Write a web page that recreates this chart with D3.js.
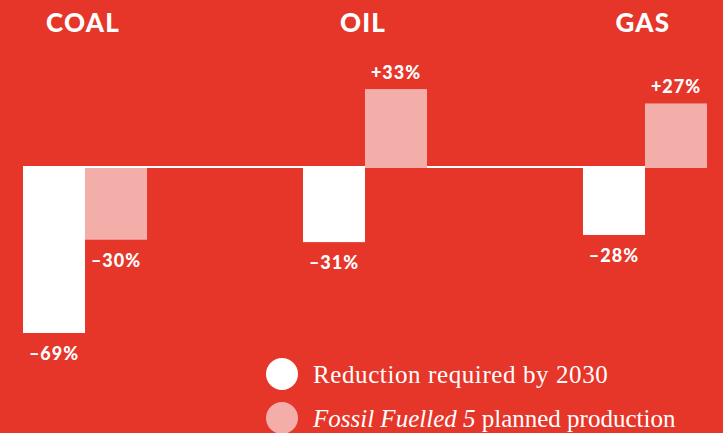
<!DOCTYPE html>
<html><head><meta charset="utf-8">
<script src="https://cdn.jsdelivr.net/npm/d3@7"></script>
<style>
html,body{margin:0;padding:0;background:#E63529;}
svg{display:block;}
</style></head>
<body>
<script>
const categories = ["COAL", "OIL", "GAS"];
const seriesNames = ["Reduction required by 2030", "Fossil Fuelled 5 planned production"];
const reductionRequired = [-69, -31, -28];
const plannedProduction = [-30, 33, 27];
const valueLabels = [["–69%", "–30%"], ["–31%", "+33%"], ["–28%", "+27%"]];

const W = 723, H = 433;
const bg = "#E63529", white = "#FFFFFF", pink = "#F4AEAA";
const svg = d3.select("body").append("svg").attr("width", W).attr("height", H);
svg.append("rect").attr("width", W).attr("height", H).attr("fill", bg);

const x = d3.scaleBand().domain(categories).range([23, 707]).paddingInner(0.557).paddingOuter(0);
const xs = d3.scaleBand().domain([0, 1]).range([0, x.bandwidth()]);
const y = d3.scaleLinear().domain([0, -69]).range([168, 333]);

const rows = categories.map((c, i) => [
  {cat: c, s: 0, v: reductionRequired[i], label: valueLabels[i][0]},
  {cat: c, s: 1, v: plannedProduction[i], label: valueLabels[i][1]}
]).flat();

const fontSans = "Lato, 'Open Sans', sans-serif";

// baseline line
svg.append("line").attr("x1", x.range()[0]).attr("x2", x.range()[1])
  .attr("y1", y(0) - 1).attr("y2", y(0) - 1)
  .attr("stroke", white).attr("stroke-width", 2);

svg.selectAll("rect.bar").data(rows).enter().append("rect")
  .attr("class", "bar")
  .attr("x", d => x(d.cat) + xs(d.s))
  .attr("width", xs.bandwidth())
  .attr("y", d => Math.min(y(d.v), y(0)))
  .attr("height", d => Math.abs(y(d.v) - y(0)))
  .attr("fill", d => d.s === 0 ? white : pink);

svg.selectAll("text.val").data(rows).enter().append("text")
  .attr("class", "val")
  .attr("x", d => x(d.cat) + xs(d.s) + xs.bandwidth() / 2)
  .attr("y", d => d.v < 0 ? y(d.v) + 27 : y(d.v) - 10)
  .attr("text-anchor", "middle")
  .attr("fill", white)
  .style("font-family", fontSans).style("font-weight", 900)
  .style("font-size", "18px").style("letter-spacing", "1px")
  .text(d => d.label);

svg.selectAll("text.cat").data(categories).enter().append("text")
  .attr("class", "cat")
  .attr("x", d => x(d) + x.bandwidth() / 2 - 2)
  .attr("y", 32)
  .attr("text-anchor", "middle")
  .attr("fill", white)
  .style("font-family", fontSans).style("font-weight", 900)
  .style("font-size", "26px").style("letter-spacing", "1.2px")
  .text(d => d);

// legend
const leg = svg.append("g").attr("transform", "translate(282,0)");
const legY = [374, 418];
leg.selectAll("circle").data(seriesNames).enter().append("circle")
  .attr("cx", 0).attr("cy", (d, i) => legY[i]).attr("r", 16)
  .attr("fill", (d, i) => i === 0 ? white : pink);
const lt = leg.selectAll("text").data(seriesNames).enter().append("text")
  .attr("x", 31).attr("y", (d, i) => legY[i] + 9)
  .attr("fill", white)
  .style("font-family", "'Liberation Serif', 'DejaVu Serif', serif")
  .style("font-size", "25px");
lt.each(function(d, i) {
  const t = d3.select(this);
  if (i === 0) { t.text(d).style("letter-spacing", "0.6px"); }
  else {
    t.append("tspan").style("font-style", "italic").text("Fossil Fuelled 5");
    t.append("tspan").text(" planned production");
  }
});
</script>
</body></html>
